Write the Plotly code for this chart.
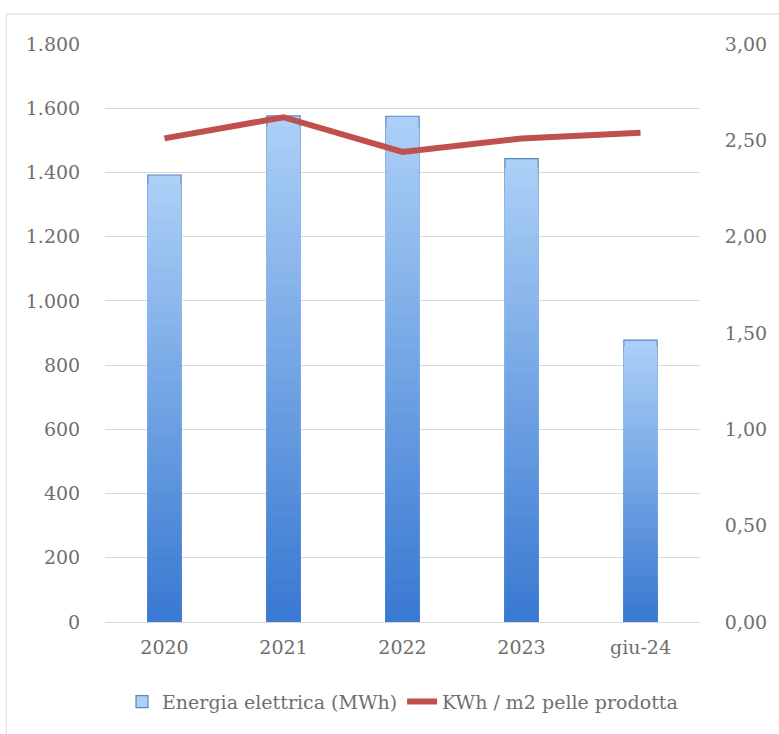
import plotly.graph_objects as go

categories = ["2020", "2021", "2022", "2023", "giu-24"]
energia_mwh = [1392, 1576, 1575, 1443, 878]
kwh_m2 = [2.51, 2.62, 2.44, 2.51, 2.54]

left_ticks = [0, 200, 400, 600, 800, 1000, 1200, 1400, 1600, 1800]
right_ticks = [0, 0.5, 1.0, 1.5, 2.0, 2.5, 3.0]

FONT = "DejaVu Serif"
FS = 19
TXT = "#6f6f6f"

fig = go.Figure()

# gradient bars: layered overlays (light top -> dark bottom)
N = 48
light = (172, 208, 247)
dark = (58, 122, 210)
for i in range(N):
    k = 1 - i / N
    t = i / (N - 1)
    c = tuple(int(light[j] + (dark[j] - light[j]) * t) for j in range(3))
    fig.add_trace(go.Bar(
        x=categories, y=[v * k for v in energia_mwh],
        marker=dict(color="rgb(%d,%d,%d)" % c,
                    line=dict(width=1.2 if i == 0 else 0, color="#5a86c2")),
        width=0.28, yaxis="y", showlegend=(i == 0),
        name="Energia elettrica (MWh)", hoverinfo="skip" if i else None,
        legendgroup="e",
    ))

fig.add_trace(go.Scatter(
    x=categories, y=kwh_m2, yaxis="y2", mode="lines",
    line=dict(color="#c0504d", width=6),
    name="KWh / m2 pelle prodotta",
))

fig.update_layout(
    width=779, height=734,
    margin=dict(l=105, r=72, t=44, b=112),
    paper_bgcolor="white", plot_bgcolor="white",
    barmode="overlay",
    separators=",.",
    font=dict(family=FONT, size=FS, color=TXT),
    xaxis=dict(showgrid=False, showline=True, linecolor="#d9d9d9", linewidth=1,
               ticks="outside", ticklen=8, tickcolor="rgba(0,0,0,0)",
               tickfont=dict(family=FONT, size=FS, color=TXT)),
    yaxis=dict(range=[0, 1800], tickvals=left_ticks, tickformat=",d",
               showgrid=True, gridcolor="#d9d9d9", gridwidth=1, zeroline=False,
               showline=False, ticks="outside", ticklen=20,
               tickcolor="rgba(0,0,0,0)",
               tickfont=dict(family=FONT, size=FS, color=TXT)),
    yaxis2=dict(range=[0, 3.0], tickvals=right_ticks, tickformat=".2f",
                overlaying="y", side="right", showgrid=False, zeroline=False,
                showline=False, ticks="outside", ticklen=20,
                tickcolor="rgba(0,0,0,0)",
                tickfont=dict(family=FONT, size=FS, color=TXT)),
    legend=dict(orientation="h", x=0.5, xanchor="center", y=-0.105, yanchor="top",
                font=dict(family=FONT, size=FS, color=TXT), traceorder="normal"),
    shapes=[dict(type="rect", xref="paper", yref="paper",
                 x0=-0.166, x1=1.3, y0=-0.4, y1=1.0519,
                 line=dict(color="#d9d9d9", width=1), layer="below")],
)

fig.write_html("out.html")
